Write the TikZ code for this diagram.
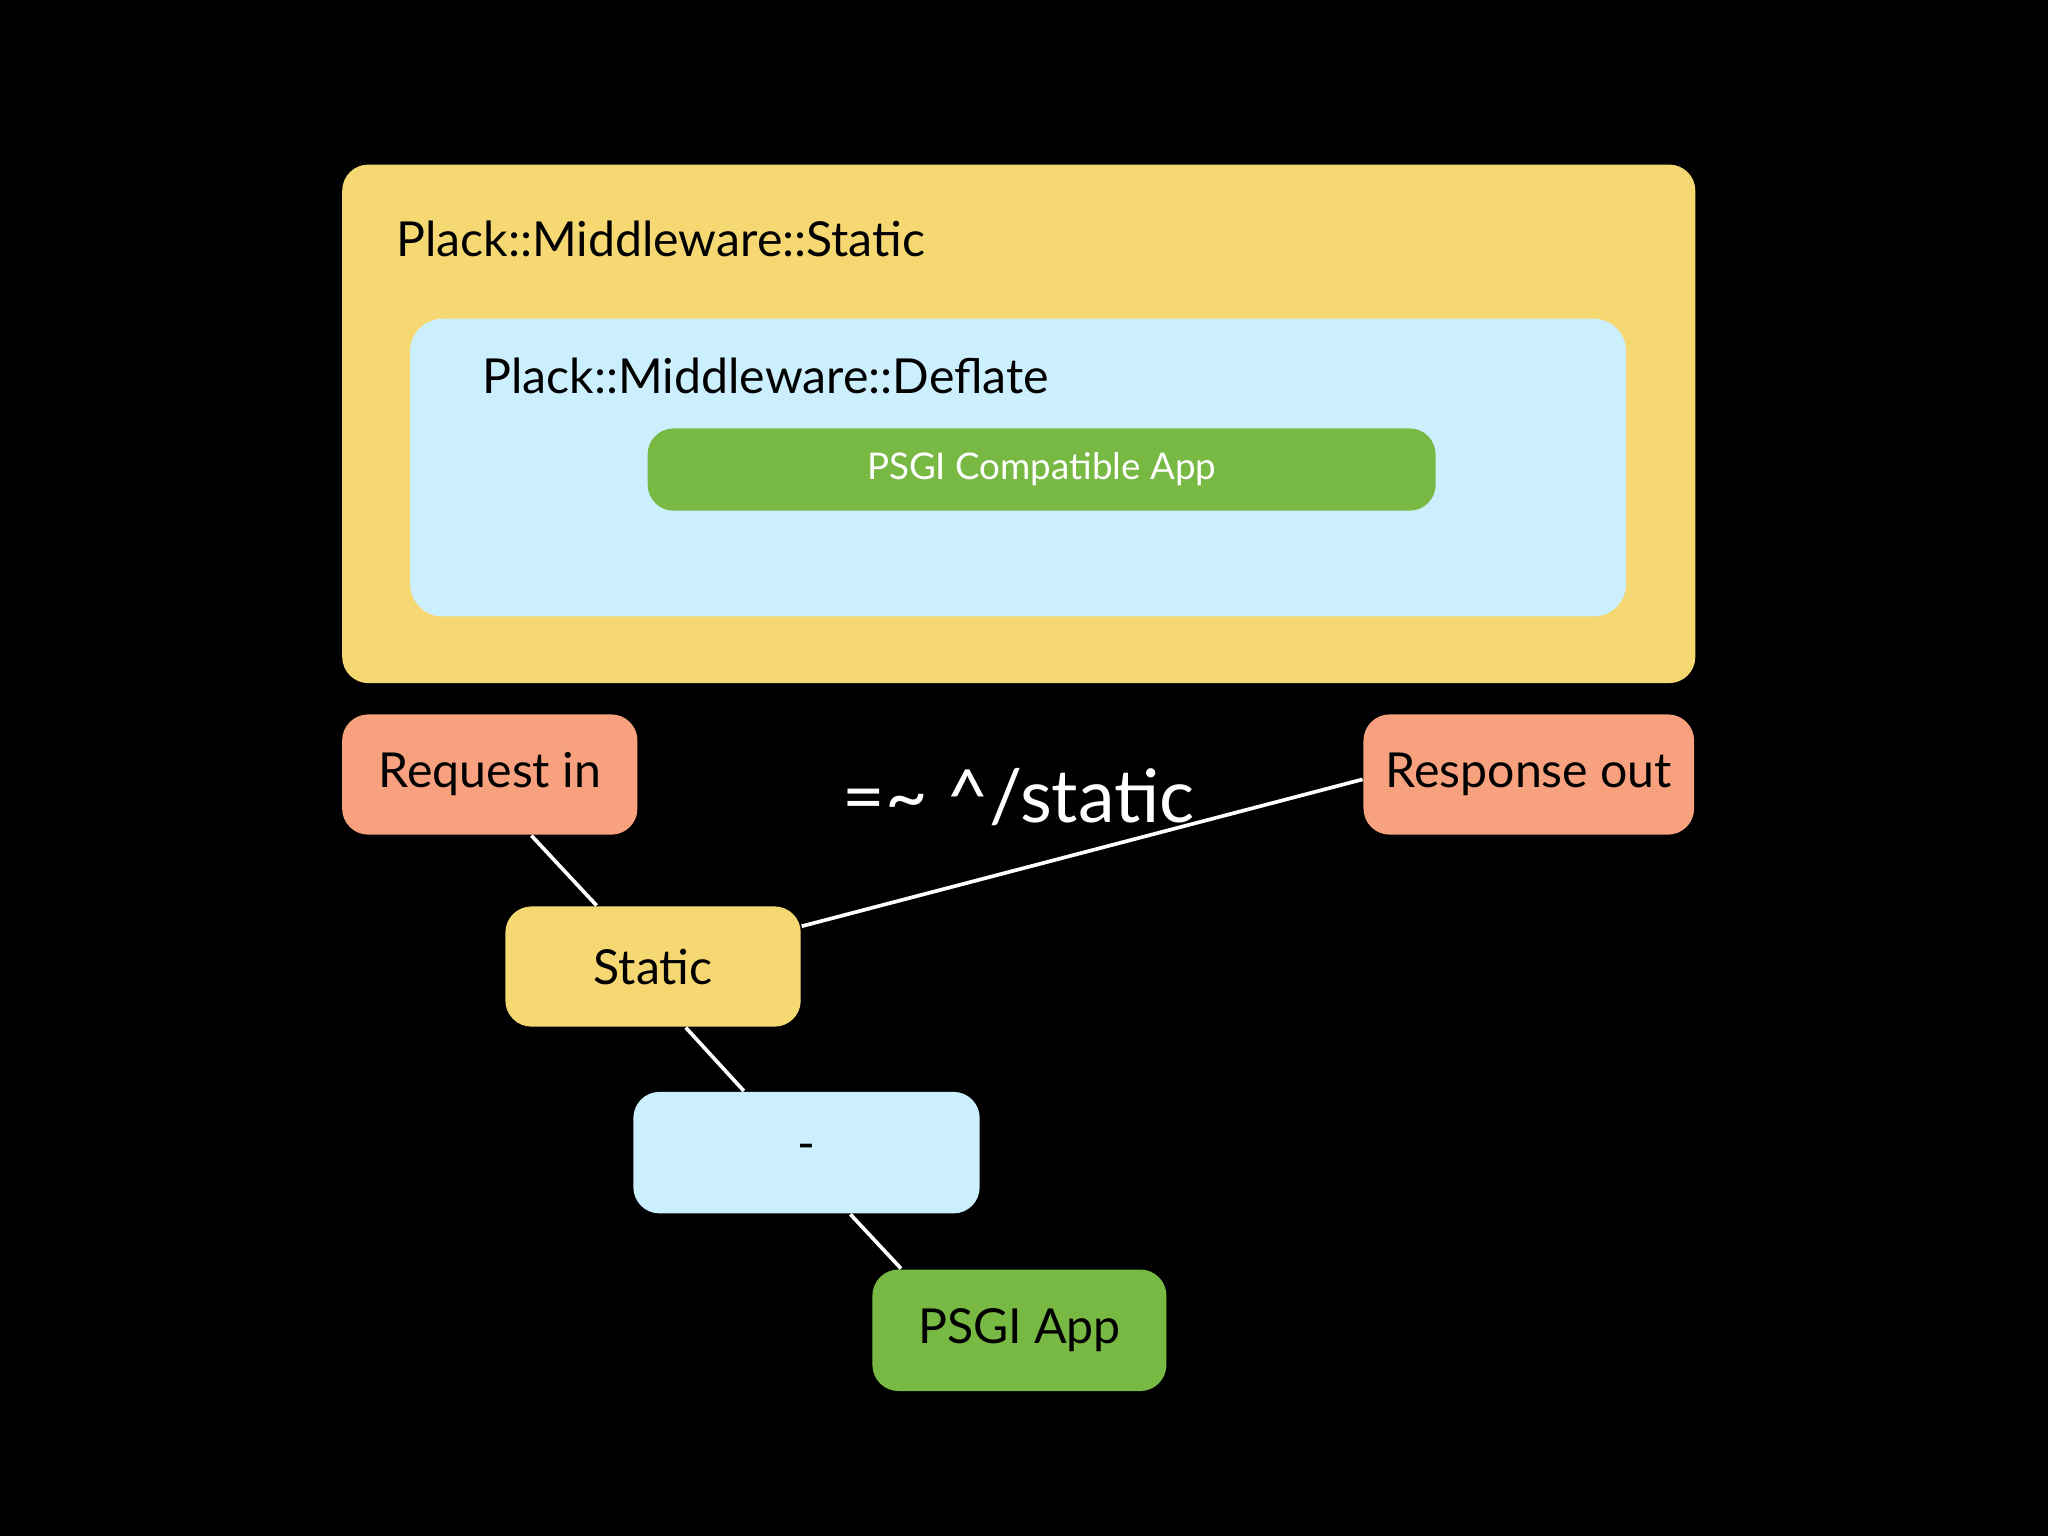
\documentclass[tikz,border=0pt]{standalone}
\usepackage{fontspec}
\setmainfont{Lato}
\usetikzlibrary{calc}
\definecolor{yel}{HTML}{F6D872}
\definecolor{blu}{HTML}{CCEFFE}
\definecolor{grn}{HTML}{78B944}
\definecolor{sal}{HTML}{F8A17F}
\begin{document}
\begin{tikzpicture}[x=0.01cm,y=-0.01cm,
  box/.style={rounded corners=0.2cm,inner sep=0pt,align=center},
  lbl/.style={font=\fontsize{10.5pt}{12pt}\selectfont},
  wire/.style={white,line width=0.8pt}]
\fill[black] (0,0) rectangle (1568,1176);
\useasboundingbox (0,0) rectangle (1568,1176);
\fill[yel,rounded corners=0.2cm] (262,126) rectangle (1298,523);
\node[lbl,anchor=west] (ts) at (291,183) {Plack::Middleware::Static};
\fill[blu,rounded corners=0.25cm] (314,244) rectangle (1245,472);
\node[lbl,anchor=west] (td) at (357,288) {Plack::Middleware::Deflate};
\node[box,fill=grn,minimum width=6.03cm,minimum height=0.63cm,text=white,font=\fontsize{8pt}{10pt}\selectfont] (app) at (797.5,359.5) {PSGI Compatible App};
\node[box,fill=sal,minimum width=2.26cm,minimum height=0.92cm,lbl] (req) at (375,593) {Request in};
\node[box,fill=sal,minimum width=2.53cm,minimum height=0.92cm,lbl] (res) at (1170.5,593) {Response out};
\node[white,font=\fontsize{16pt}{18pt}\selectfont] (re) at (780,610) {=\char`\~{} \char`\^/static};
\node[box,fill=yel,minimum width=2.26cm,minimum height=0.92cm,lbl] (st) at (500,740) {Static};
\node[box,fill=blu,minimum width=2.65cm,minimum height=0.93cm,lbl] (de) at (617.5,882.5) {-};
\node[box,fill=grn,minimum width=2.25cm,minimum height=0.93cm,lbl] (pa) at (780.5,1018.5) {PSGI App};
\draw[wire] ($(req.south west)!0.64!(req.south east)$) -- ($(st.north west)!0.31!(st.north east)$);
\draw[wire] ($(st.north east)!0.17!(st.south east)$) -- ($(res.north west)!0.54!(res.south west)$);
\draw[wire] ($(st.south west)!0.61!(st.south east)$) -- ($(de.north west)!0.32!(de.north east)$);
\draw[wire] ($(de.south west)!0.626!(de.south east)$) -- ($(pa.north west)!0.1!(pa.north east)$);
\end{tikzpicture}
\end{document}
